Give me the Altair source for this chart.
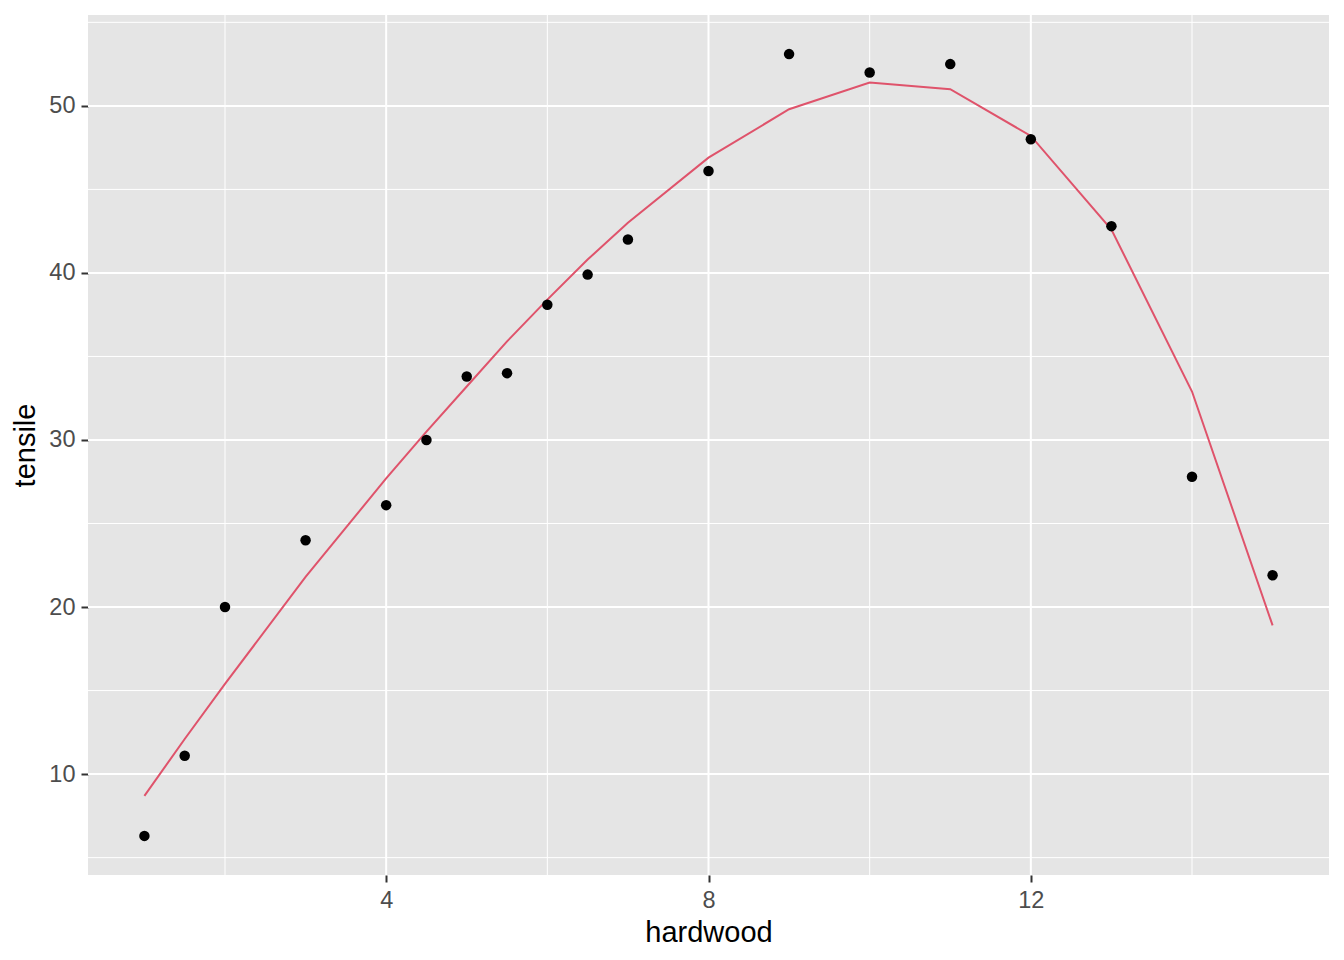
import altair as alt
import pandas as pd

hardwood = [1, 1.5, 2, 3, 4, 4.5, 5, 5.5, 6, 6.5, 7, 8, 9, 10, 11, 12, 13, 14, 15]
tensile = [6.3, 11.1, 20.0, 24.0, 26.1, 30.0, 33.8, 34.0, 38.1, 39.9, 42.0, 46.1,
           53.1, 52.0, 52.5, 48.0, 42.8, 27.8, 21.9]
fitted = [8.7, 12.1, 15.4, 21.8, 27.7, 30.5, 33.2, 35.9, 38.4, 40.8, 43.0, 46.9,
          49.8, 51.4, 51.0, 48.2, 42.6, 32.9, 18.9]

x_major = [4, 8, 12]
x_minor = [2, 6, 10, 14]
y_major = [10, 20, 30, 40, 50]
y_minor = [5, 15, 25, 35, 45, 55]

df = pd.DataFrame({"hardwood": hardwood, "tensile": tensile, "fitted": fitted})

xdom = [0.3, 15.7]
ydom = [3.96, 55.44]

xs = alt.Scale(domain=xdom, nice=False, zero=False)
ys = alt.Scale(domain=ydom, nice=False, zero=False)

W, H = 1241, 860

common = dict(grid=False, domain=False, tickColor="#333333",
              tickWidth=2, tickSize=7, labelFontSize=23.5, labelColor="#4D4D4D",
              labelPadding=6, titleFontSize=29, titleFontWeight="normal",
              titleColor="black", labelFont="Liberation Sans",
              titleFont="Liberation Sans")
xaxis = alt.Axis(values=x_major, titlePadding=7, **common)
yaxis = alt.Axis(values=y_major, titlePadding=8, **common)

xminor_df = pd.DataFrame({"v": x_minor})
xmajor_df = pd.DataFrame({"v": x_major})
yminor_df = pd.DataFrame({"v": y_minor})
ymajor_df = pd.DataFrame({"v": y_major})

X = lambda f: alt.X(f, scale=xs, axis=xaxis, title="hardwood")
Y = lambda f: alt.Y(f, scale=ys, axis=yaxis, title="tensile")

g_xmin = alt.Chart(xminor_df).mark_rule(color="white", strokeWidth=1).encode(x=X("v:Q"))
g_xmaj = alt.Chart(xmajor_df).mark_rule(color="white", strokeWidth=2).encode(x=X("v:Q"))
g_ymin = alt.Chart(yminor_df).mark_rule(color="white", strokeWidth=1).encode(y=Y("v:Q"))
g_ymaj = alt.Chart(ymajor_df).mark_rule(color="white", strokeWidth=2).encode(y=Y("v:Q"))

line = alt.Chart(df).mark_line(color="#DF536B", strokeWidth=2).encode(
    x=X("hardwood:Q"), y=Y("fitted:Q"))
points = alt.Chart(df).mark_circle(color="black", size=110, opacity=1).encode(
    x=X("hardwood:Q"), y=Y("tensile:Q"))

chart = alt.layer(g_xmin, g_ymin, g_xmaj, g_ymaj, line, points).properties(
    width=W, height=H,
    autosize=alt.AutoSizeParams(type="none"),
    padding={"left": 80, "top": 7, "right": 7, "bottom": 77},
    background="white",
).configure_view(fill="#E5E5E5", stroke=None)

chart.save("out.html", embed_options={"renderer": "svg", "actions": False})
